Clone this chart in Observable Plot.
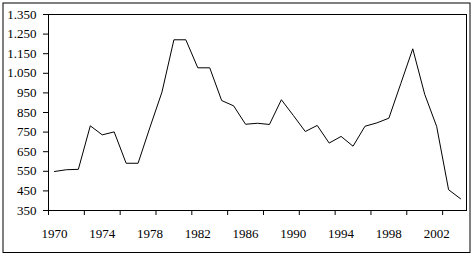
<!DOCTYPE html>
<html>
<head>
<meta charset="utf-8">
<script src="https://cdn.jsdelivr.net/npm/d3@7"></script>
<script src="https://cdn.jsdelivr.net/npm/@observablehq/plot@0.6"></script>
<style>
  html, body { margin: 0; padding: 0; background: #fff; }
  #chart svg { display: block; }
</style>
</head>
<body>
<div id="chart"></div>
<script>
const years = [1970,1971,1972,1973,1974,1975,1976,1977,1978,1979,
               1980,1981,1982,1983,1984,1985,1986,1987,1988,1989,
               1990,1991,1992,1993,1994,1995,1996,1997,1998,1999,
               2000,2001,2002,2003,2004];
const values = [549,558,560,782,736,751,591,591,775,954,
                1221,1221,1078,1078,911,884,790,795,789,915,
                835,753,784,694,728,678,780,797,821,998,
                1175,943,779,456,410];
const yTicks = [350,450,550,650,750,850,950,1050,1150,1250,1350];
const xLabelYears = [1970,1974,1978,1982,1986,1990,1994,1998,2002];
const xTickMarks = [1969.5,1972.5,1975.5,1978.5,1981.5,1984.5,1987.5,1990.5,1993.5,1996.5,1999.5,2002.5];

const data = years.map((y, i) => ({year: y, value: values[i]}));
const fmt = d3.formatLocale({decimal: ",", thousands: ".", grouping: [3], currency: ["", ""]}).format(",");

const chart = Plot.plot({
  width: 472,
  height: 255,
  marginLeft: 48,
  marginRight: 6,
  marginTop: 14,
  marginBottom: 45,
  style: {fontFamily: "'Liberation Serif', 'DejaVu Serif', serif", fontSize: "13px", color: "black", background: "white"},
  x: {domain: [1969.5, 2004.5]},
  y: {domain: [350, 1350]},
  marks: [
    Plot.frame({stroke: "black", insetTop: -11.5, insetLeft: -45.5, insetRight: -3.5, insetBottom: -42}),
    Plot.axisY(yTicks, {tickSize: 5, tickPadding: 7, tickFormat: fmt, label: null, stroke: "black", fill: "black"}),
    Plot.axisX(xTickMarks, {tickSize: 5, tickFormat: () => "", label: null, stroke: "black"}),
    Plot.axisX(xLabelYears, {tickSize: 0, tickPadding: 18, tickFormat: d => String(d), label: null, fill: "black"}),
    Plot.frame({stroke: "black"}),
    Plot.line(data, {x: "year", y: "value", stroke: "black", strokeWidth: 1})
  ]
});
document.getElementById("chart").appendChild(chart);
</script>
</body>
</html>
